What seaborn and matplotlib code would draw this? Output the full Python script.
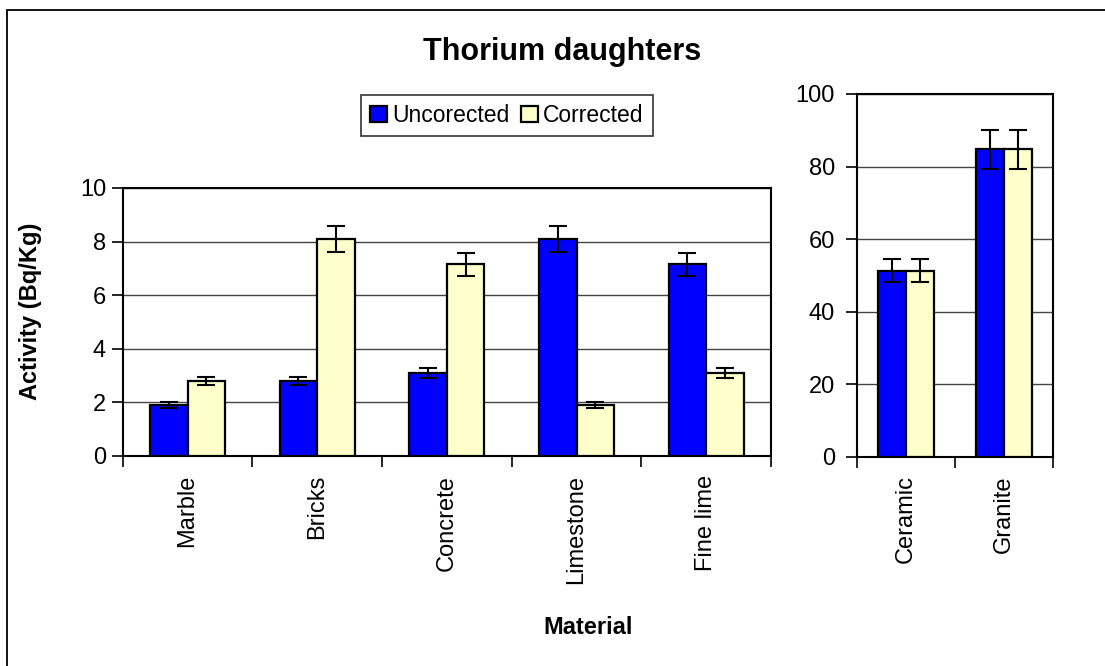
import matplotlib
matplotlib.use("Agg")
import matplotlib.pyplot as plt
from matplotlib.patches import Rectangle
from matplotlib.ticker import FixedLocator
import seaborn as sns
import pandas as pd
import numpy as np

# данные
materials_low = ["Marble", "Bricks", "Concrete", "Limestone", "Fine lime"]
uncorr_low = [1.9, 2.8, 3.1, 8.1, 7.15]
corr_low = [2.8, 8.1, 7.15, 1.9, 3.1]
uncorr_low_err = [0.11, 0.15, 0.18, 0.5, 0.44]
corr_low_err = [0.15, 0.5, 0.44, 0.11, 0.18]

materials_high = ["Ceramic", "Granite"]
uncorr_high = [51.3, 84.8]
corr_high = [51.3, 84.8]
uncorr_high_err = [3.2, 5.4]
corr_high_err = [3.2, 5.4]

series = ["Uncorected", "Corrected"]
colors = {"Uncorected": "#0000FF", "Corrected": "#FFFFCC"}

sns.set_theme(style="white")
plt.rcParams['font.family'] = ['Liberation Sans', 'DejaVu Sans']
plt.rcParams['text.color'] = 'black'
plt.rcParams['axes.labelcolor'] = 'black'
plt.rcParams['xtick.color'] = 'black'
plt.rcParams['ytick.color'] = 'black'

W, H = 1105, 666
fig = plt.figure(figsize=(W / 100, H / 100), dpi=100)
fig.patch.set_facecolor("white")


def px(x0, y0, x1, y1):
    # пиксели -> доли фигуры
    return [x0 / W, 1 - y1 / H, (x1 - x0) / W, (y1 - y0) / H]


def make_df(mats, u, c, ue, ce):
    return pd.DataFrame({
        "material": mats * 2,
        "series": [series[0]] * len(mats) + [series[1]] * len(mats),
        "value": list(u) + list(c),
        "err": list(ue) + list(ce),
    })


def draw_panel(ax, df, mats, ymax, ystep, ypad):
    sns.barplot(data=df, x="material", y="value", hue="series",
                order=mats, hue_order=series, palette=colors, saturation=1,
                width=0.58, edgecolor="black", linewidth=1.6,
                errorbar=None, legend=True, ax=ax, zorder=3)
    # усы погрешностей
    for cont, s in zip(ax.containers, series):
        sub = df[df["series"] == s].set_index("material").loc[mats]
        xs = [b.get_x() + b.get_width() / 2 for b in cont]
        ax.errorbar(xs, sub["value"].values, yerr=sub["err"].values, fmt="none",
                    ecolor="black", elinewidth=1.5, capsize=6.5, capthick=1.5,
                    zorder=4)
    ax.set_xlim(-0.5, len(mats) - 0.5)
    ax.set_ylim(0, ymax)
    ax.set_yticks(np.arange(0, ymax + 0.1, ystep))
    ax.yaxis.grid(True, color="#444444", linewidth=1.0)
    ax.set_axisbelow(True)
    for sp in ax.spines.values():
        sp.set_visible(True)
        sp.set_color("black")
        sp.set_linewidth(1.5)
    ax.set_xlabel("")
    ax.set_ylabel("")
    ax.tick_params(axis="y", which="major", direction="out", length=8,
                   width=1.2, labelsize=17, pad=ypad, left=True)
    ax.tick_params(axis="x", which="major", length=0, labelsize=17,
                   pad=13.5, labelrotation=90)
    ax.xaxis.set_minor_locator(FixedLocator(np.arange(-0.5, len(mats), 1.0)))
    ax.tick_params(axis="x", which="minor", direction="out", length=8,
                   width=1.2, bottom=True)
    ax.set_facecolor("white")


ax1 = fig.add_axes(px(122.7, 188, 771, 456))
ax2 = fig.add_axes(px(857, 94, 1053, 456.7))

df_low = make_df(materials_low, uncorr_low, corr_low, uncorr_low_err, corr_low_err)
df_high = make_df(materials_high, uncorr_high, corr_high, uncorr_high_err, corr_high_err)

draw_panel(ax1, df_low, materials_low, 10, 2, 4)
draw_panel(ax2, df_high, materials_high, 100, 20, 8)

handles, labels = ax1.get_legend_handles_labels()
ax1.get_legend().remove()
ax2.get_legend().remove()
leg = fig.legend(handles, labels, loc="upper right",
                 bbox_to_anchor=(653 / W, 1 - 95 / H), ncol=2, fontsize=16.5,
                 frameon=True, fancybox=False, edgecolor="black",
                 handlelength=0.72, handleheight=0.72, handletextpad=0.25,
                 columnspacing=0.5, borderpad=0.4, borderaxespad=0)
leg.get_frame().set_linewidth(1.2)

fig.text(562 / W, 1 - 60 / H, "Thorium daughters", ha="center", va="baseline",
         fontsize=22, fontweight="bold")
fig.text(31 / W, 1 - 311 / H, "Activity (Bq/Kg)", ha="center", va="center",
         rotation=90, fontsize=17, fontweight="bold")
fig.text(588 / W, 1 - 627 / H, "Material", ha="center", va="center",
         fontsize=17, fontweight="bold")

# рамка диаграммы (справа и снизу обрезана)
fig.add_artist(Rectangle((7 / W, -0.1), 1.2, 1.1 - 10 / H,
                         transform=fig.transFigure, fill=False,
                         edgecolor="black", linewidth=1.3))

fig.savefig("out.png", dpi=100, facecolor="white")
